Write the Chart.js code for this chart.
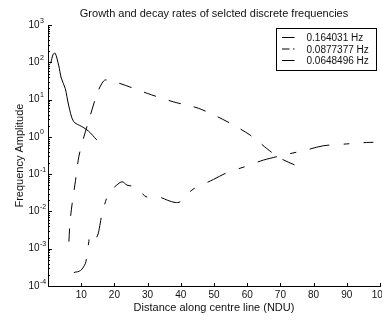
<!DOCTYPE html>
<html>
<head>
<meta charset="utf-8">
<script src="https://cdn.jsdelivr.net/npm/chart.js@4"></script>
<style>
  html, body { margin: 0; padding: 0; background: #fff; }
  #wrap { width: 382px; height: 320px; }
</style>
</head>
<body>
<div id="wrap"><canvas id="decayChart" width="382" height="320"></canvas></div>
<script>
// series labels
const seriesLabels = ['0.164031 Hz', '0.0877377 Hz', '0.0648496 Hz'];

// 0.164031 Hz (solid)
const s1x = [0.8, 1.6, 2.2, 3.2, 4.0, 5.2, 6.2, 7.7, 10.2, 12.2, 14.7];
const s1y = [95, 170, 175, 85, 38, 20, 7.2, 2.6, 1.9, 1.44, 0.83];

// 0.0877377 Hz (dashed)
const s2x = [6.3, 6.6, 7.3, 8.3, 9.3, 10.8, 12.3, 14.8, 16.3, 17.3, 21.3, 29.9, 37.9, 45.3, 53.9, 60.9, 65.9, 69.9, 77.4];
const s2y = [0.00155, 0.0049, 0.017, 0.069, 0.30, 1.0, 2.8, 14.8, 28, 34, 28, 14.8, 8.7, 5.9, 2.6, 1.12, 0.49, 0.27, 0.135];

// 0.0648496 Hz (dash-dot)
const s3x = [7.8, 9.8, 11.3, 11.6, 12.3, 12.6, 13.7, 14.8, 16.3, 17.6, 18.3, 20.0, 22.3, 23.8, 25.8, 27.3, 29.5, 31.8, 33.8, 36.0,
             38.3, 39.8, 43.4, 47.9, 49.8, 53.9, 59.9, 64.9, 71.9, 77.9, 82.9, 89.9, 95.9, 98.0];
const s3y = [0.00023, 0.00026, 0.00041, 0.00062, 0.00155, 0.0026, 0.0025, 0.0021, 0.0089, 0.022, 0.031, 0.045, 0.063, 0.051, 0.047, 0.038, 0.025, 0.024, 0.024, 0.020,
             0.0174, 0.0182, 0.038, 0.060, 0.072, 0.11, 0.166, 0.24, 0.34, 0.45, 0.58, 0.65, 0.71, 0.72];

// axis ticks
const xTicks = [0, 10, 20, 30, 40, 50, 60, 70, 80, 90, 100];
const yDecades = [1e3, 1e2, 1e1, 1, 1e-1, 1e-2, 1e-3, 1e-4];
const yExponents = ['3', '2', '1', '0', '-1', '-2', '-3', '-4'];

const FONT = "'Liberation Sans', Arial, Helvetica, sans-serif";
const INK = '#111';

Chart.defaults.font.family = FONT;
Chart.defaults.color = INK;

function pts(xs, ys) {
    return xs.map((x, i) => ({ x: x, y: ys[i] }));
}

const dashes = [[], [13, 13], [20, 14, 6, 14]];
const legendDashes = [[], [7.5, 3.5], []];

// inward tick marks, y tick labels with exponents, boxed legend
const matlabAxes = {
    id: 'matlabAxes',
    afterDraw(chart) {
        const ctx = chart.ctx;
        const xs = chart.scales.x, ys = chart.scales.y;
        const area = chart.chartArea;
        ctx.save();
        ctx.strokeStyle = '#000';
        ctx.lineWidth = 1;

        // x ticks (pointing up)
        xTicks.forEach(v => {
            const px = Math.round(xs.getPixelForValue(v)) + 0.5;
            ctx.beginPath();
            ctx.moveTo(px, area.bottom);
            ctx.lineTo(px, area.bottom - 3);
            ctx.stroke();
        });

        // y ticks (pointing right), major and minor
        yDecades.forEach((d, i) => {
            const py = Math.round(ys.getPixelForValue(d)) + 0.5;
            ctx.beginPath();
            ctx.moveTo(area.left, py);
            ctx.lineTo(area.left + 4, py);
            ctx.stroke();
            if (d < 1e3) {
                for (let k = 2; k <= 9; k++) {
                    const my = Math.round(ys.getPixelForValue(d * k)) + 0.5;
                    ctx.beginPath();
                    ctx.moveTo(area.left, my);
                    ctx.lineTo(area.left + 2, my);
                    ctx.stroke();
                }
            }
            // label 10^n
            ctx.fillStyle = INK;
            ctx.font = '10px ' + FONT;
            ctx.textAlign = 'right';
            ctx.textBaseline = 'middle';
            const py2 = ys.getPixelForValue(d);
            ctx.fillText('10', 39.5, py2);
            ctx.font = '7px ' + FONT;
            ctx.textAlign = 'left';
            ctx.textBaseline = 'alphabetic';
            ctx.fillText(yExponents[i], 40, py2 - 2.5);
        });

        // legend
        const bx = 276.5, by = 28.5, bw = 100, bh = 42;
        ctx.fillStyle = '#fff';
        ctx.fillRect(bx, by, bw, bh);
        ctx.strokeRect(bx, by, bw, bh);
        chart.data.datasets.forEach((ds, i) => {
            const ry = 37.5 + i * 11.5;
            ctx.setLineDash(legendDashes[i]);
            ctx.beginPath();
            ctx.moveTo(282, ry);
            ctx.lineTo(294.5, ry);
            ctx.stroke();
            ctx.setLineDash([]);
            ctx.fillStyle = INK;
            ctx.font = '10px ' + FONT;
            ctx.textAlign = 'left';
            ctx.textBaseline = 'middle';
            ctx.fillText(ds.label, 306.5, ry + 1);
        });
        ctx.restore();
    }
};

const ctx = document.getElementById('decayChart');
new Chart(ctx, {
    type: 'line',
    data: {
        datasets: [s1x, s2x, s3x].map((xs, i) => ({
            label: seriesLabels[i],
            data: pts(xs, [s1y, s2y, s3y][i]),
            borderColor: '#000',
            borderWidth: 1,
            borderDash: dashes[i],
            pointRadius: 0,
            fill: false,
            tension: 0.3
        }))
    },
    options: {
        responsive: false,
        animation: false,
        devicePixelRatio: 1,
        layout: {
            autoPadding: false,
            padding: { left: 0, right: 2, top: 0, bottom: 0 }
        },
        plugins: {
            legend: { display: false },
            tooltip: { enabled: false },
            title: {
                display: true,
                text: 'Growth and decay rates of selcted discrete frequencies',
                fullSize: false,
                color: INK,
                font: { size: 11, weight: 'normal' },
                padding: { top: 7, bottom: 5 }
            }
        },
        scales: {
            x: {
                type: 'linear',
                min: 0,
                max: 100,
                grid: { display: false, drawTicks: false, tickLength: 0 },
                border: { display: true, color: '#000', width: 1 },
                ticks: {
                    stepSize: 10,
                    padding: 3,
                    maxRotation: 0,
                    autoSkip: false,
                    color: INK,
                    font: { size: 10 },
                    callback: v => (v === 0 ? '' : v)
                },
                title: {
                    display: true,
                    text: 'Distance along centre line (NDU)',
                    color: INK,
                    font: { size: 11 },
                    padding: { top: 0, bottom: 5 }
                },
                afterFit: s => {
                    s.height = 34;
                    s.paddingLeft = 0;
                    s.paddingRight = 0;
                }
            },
            y: {
                type: 'logarithmic',
                min: 1e-4,
                max: 1e3,
                grid: { display: false, drawTicks: false, tickLength: 0 },
                border: { display: true, color: '#000', width: 1 },
                ticks: { display: false },
                title: {
                    display: true,
                    text: 'Frequency Amplitude',
                    color: INK,
                    font: { size: 11 },
                    padding: { top: 13, bottom: 0 }
                },
                afterFit: s => {
                    s.width = 48;
                    s.paddingTop = 0;
                    s.paddingBottom = 0;
                }
            }
        }
    },
    plugins: [matlabAxes]
});
</script>
</body>
</html>
